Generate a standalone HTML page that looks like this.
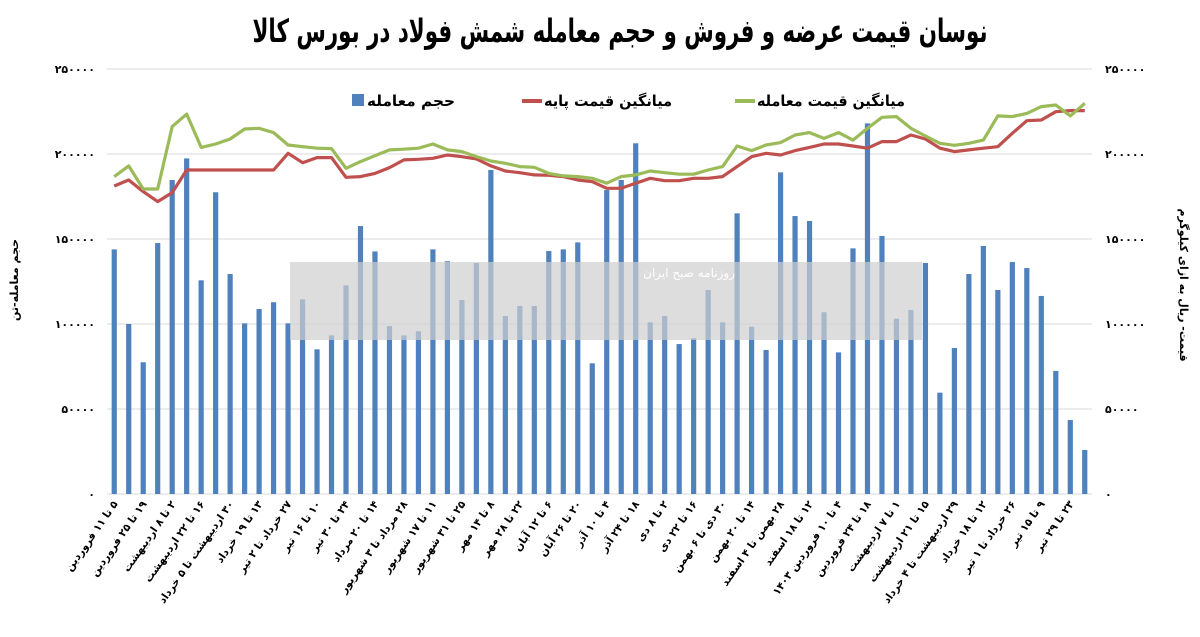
<!DOCTYPE html>
<html><head><meta charset="utf-8">
<style>
html,body{margin:0;padding:0;background:#fff;}
svg{display:block;font-family:"DejaVu Sans","Liberation Sans",sans-serif;}
</style></head>
<body>
<svg id="chart" width="1200" height="637" viewBox="0 0 1200 637" xmlns="http://www.w3.org/2000/svg">
<rect width="1200" height="637" fill="#fff"/>
<text x="620" y="42" text-anchor="middle" font-size="32" font-weight="bold" direction="rtl" textLength="735" lengthAdjust="spacingAndGlyphs">نوسان قیمت عرضه و فروش و حجم معامله شمش فولاد در بورس کالا</text>
<g id="grid"></g>
<g id="bars"></g>
<rect x="290" y="262" width="632" height="78" fill="#cfcfcf" opacity="0.7"/>
<text x="735" y="277" text-anchor="start" font-size="12" fill="#fff" direction="rtl">روزنامه صبح ایران</text>
<g id="lines"></g>
<g id="axes"></g>
<g>
  <rect x="352" y="94" width="12" height="12" fill="#4f81bd"/>
  <text x="455" y="106" text-anchor="start" font-size="15" font-weight="bold" direction="rtl" textLength="88" lengthAdjust="spacingAndGlyphs">حجم معامله</text>
  <line x1="522" y1="101" x2="542" y2="101" stroke="#c0504d" stroke-width="4"/>
  <text x="672" y="106" text-anchor="start" font-size="15" font-weight="bold" direction="rtl" textLength="128" lengthAdjust="spacingAndGlyphs">میانگین قیمت پایه</text>
  <line x1="735" y1="101" x2="755" y2="101" stroke="#9bbb59" stroke-width="4"/>
  <text x="905" y="106" text-anchor="start" font-size="15" font-weight="bold" direction="rtl" textLength="148" lengthAdjust="spacingAndGlyphs">میانگین قیمت معامله</text>
</g>
<text transform="translate(18,280) rotate(-90)" text-anchor="middle" font-size="11" font-weight="bold" direction="rtl">حجم معامله-تن</text>
<text transform="translate(1180,285) rotate(90)" text-anchor="middle" font-size="11" font-weight="bold" direction="rtl">قیمت- ریال به ازای کیلوگرم</text>
</svg>
<script>
const volumes = [143900,100000,77500,147600,184700,197400,125700,177500,129400,100400,108800,112800,100400,114500,85100,93300,122700,157600,142700,98800,93300,95700,143900,136900,114100,135900,190600,104700,110600,110600,142900,143900,148000,76900,178800,184700,206300,101000,104700,88200,91600,120000,101000,165100,98400,84700,189200,163500,160600,106900,83300,144500,218000,151800,103100,108200,135900,59600,85900,129400,145900,120000,136500,132900,116500,72400,43500,25900];
const basePrice = [181200,184700,177900,172000,177300,190600,190600,190600,190600,190600,190600,190600,200400,194900,197900,197900,186300,186700,188600,192000,196500,196900,197500,199400,198400,197100,193000,190000,189000,187700,187500,186700,184700,183700,179800,179800,182800,185700,184300,184300,185700,185700,186700,192600,198400,200400,199400,202000,203900,205900,205900,204700,203400,207300,207300,211200,208800,203400,201400,202400,203400,204300,212200,219600,220000,224900,225500,225500];
const tradePrice = [186700,193000,179400,179400,216100,223500,203900,205900,208800,214700,215100,212600,205300,204300,203400,203200,191600,195500,199000,202400,202800,203400,205900,202400,201400,198500,195900,194500,192600,192200,188600,187100,186700,185700,182800,186700,187700,190000,189000,188100,188100,190600,192600,204700,202000,205300,206700,211200,212600,209200,212600,208200,215100,221600,222000,215100,210600,206300,205100,206300,208200,222400,222000,223900,227900,228800,222400,229800];
const xLabels = ["۵ تا ۱۱ فروردین","۱۹ تا ۲۵ فروردین","۲ تا ۸ اردیبهشت","۱۶ تا ۲۲ اردیبهشت","۳۰ اردیبهشت تا ۵ خرداد","۱۳ تا ۱۹ خرداد","۲۷ خرداد تا ۲ تیر","۱۰ تا ۱۶ تیر","۲۴ تا ۳۰ تیر","۱۴ تا ۲۰ مرداد","۲۸ مرداد تا ۳ شهریور","۱۱ تا ۱۷ شهریور","۲۵ تا ۳۱ شهریور","۸ تا ۱۴ مهر","۲۲ تا ۲۸ مهر","۶ تا ۱۲ آبان","۲۰ تا ۲۶ آبان","۴ تا ۱۰ آذر","۱۸ تا ۲۴ آذر","۲ تا ۸ دی","۱۶ تا ۲۲ دی","۳۰ دی تا ۶ بهمن","۱۴ تا ۲۰ بهمن","۲۸ بهمن تا ۴ اسفند","۱۲ تا ۱۸ اسفند","۴ تا ۱۰ فروردین ۱۴۰۳","۱۸ تا ۲۴ فروردین","۱ تا ۷ اردیبهشت","۱۵ تا ۲۱ اردیبهشت","۲۹ اردیبهشت تا ۴ خرداد","۱۲ تا ۱۸ خرداد","۲۶ خرداد تا ۱ تیر","۹ تا ۱۵ تیر","۲۳ تا ۲۹ تیر"];
const yTicks = [0,50000,100000,150000,200000,250000];
const yTickLabels = ["۰","۵۰۰۰۰","۱۰۰۰۰۰","۱۵۰۰۰۰","۲۰۰۰۰۰","۲۵۰۰۰۰"];

const NS="http://www.w3.org/2000/svg";
const X0=107, X1=1092, Y0=494, Y1=69, YMAX=250000;
const n=volumes.length, step=(X1-X0)/n;
function xPos(i){return X0+step*(i+0.5);}
function yPos(v){return Y0-(v/YMAX)*(Y0-Y1);}
function mk(tag,attrs,parent){const e=document.createElementNS(NS,tag);for(const k in attrs)e.setAttribute(k,attrs[k]);parent.appendChild(e);return e;}

const grid=document.getElementById('grid');
yTicks.forEach((t,i)=>{
  const g=mk('line',{x1:X0,x2:X1,y1:yPos(t),y2:yPos(t),stroke:'#d9d9d9','stroke-width':1},grid);
  
  
});
const axes=document.getElementById('axes');
yTicks.forEach((t,i)=>{
  const l=mk('text',{x:95,y:yPos(t)+4,'text-anchor':'end','font-size':11,'font-weight':'bold'},axes);
  
  
  l.textContent=yTickLabels[i];
  const r=mk('text',{x:1105,y:yPos(t)+4,'text-anchor':'start','font-size':11,'font-weight':'bold'},axes);
  
  
  r.textContent=yTickLabels[i];
});
const bars=document.getElementById('bars');
volumes.forEach((v,i)=>{
  const b=mk('rect',{x:xPos(i)-2.6,y:yPos(v),width:5.2,height:Y0-yPos(v),fill:'#4f81bd'},bars);
  
  
});
const lines=document.getElementById('lines');
function line(arr,color,name){
  const p=mk('polyline',{points:arr.map((v,i)=>xPos(i).toFixed(1)+','+yPos(v).toFixed(1)).join(' '),fill:'none',stroke:color,'stroke-width':3.2,'stroke-linejoin':'round'},lines);
  
  
}
line(basePrice,'#c0504d','base-price-line');
line(tradePrice,'#9bbb59','trade-price-line');
xLabels.forEach((s,k)=>{
  const x=xPos(k*2)+4, y=504;
  const t=mk('text',{x:0,y:0,transform:'translate('+x+','+y+') rotate(-55)','text-anchor':'start',direction:'rtl','font-size':10.5,'font-weight':'bold'},axes);
  
  
  t.textContent=s;
});
</script>
</body></html>
